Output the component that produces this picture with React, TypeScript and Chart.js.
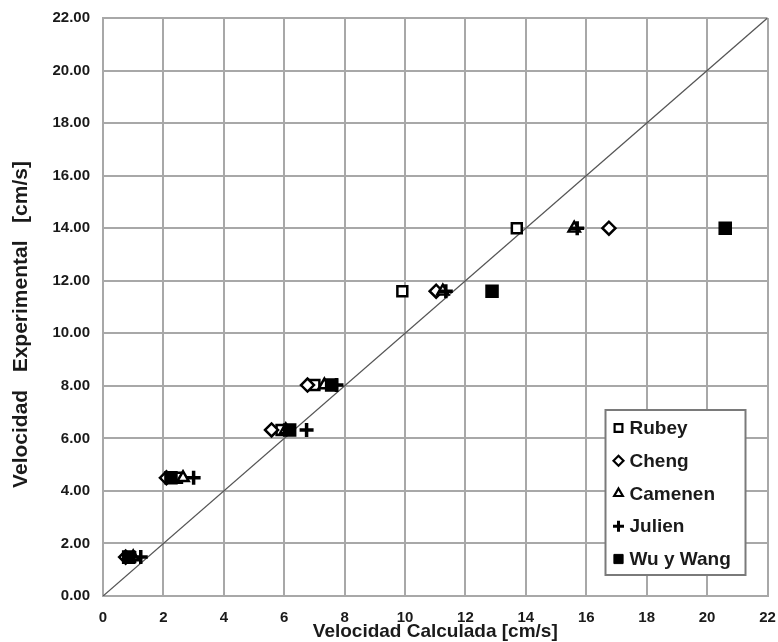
import React, { useEffect, useRef } from 'react';
import { Chart, registerables } from 'chart.js';
import { drawPoint } from 'chart.js/helpers';

Chart.register(...registerables);

// Experimental velocity (y) for the six test runs
const expVelocity = [1.48, 4.5, 6.32, 8.03, 11.6, 14.0];

// Calculated velocity (x) per method
const rubeyCalc = [0.9, 2.45, 5.91, 7.0, 9.91, 13.7];
const chengCalc = [0.75, 2.1, 5.58, 6.77, 11.03, 16.75];
const camenenCalc = [1.0, 2.65, 6.05, 7.33, 11.25, 15.6];
const julienCalc = [1.25, 3.0, 6.74, 7.73, 11.35, 15.7];
const wuWangCalc = [0.85, 2.25, 6.18, 7.57, 12.88, 20.6];

const seriesNames = ['Rubey', 'Cheng', 'Camenen', 'Julien', 'Wu y Wang'];

// 1:1 reference line end points
const identityLine = [0, 22];

const axisMin = 0;
const axisMax = 22;
const axisStep = 2;

const xTitle = 'Velocidad Calculada [cm/s]';
const yTitle = 'Velocidad   Experimental   [cm/s]      ';

const FONT = "'Liberation Sans', Arial, Helvetica, sans-serif";
const TEXT = '#1a1a1a';
const GRID = '#a8a8a8';

const pts = (xs: number[]) => xs.map((x, i) => ({ x, y: expVelocity[i] }));

const boxLegend = {
  id: 'boxLegend',
  afterDraw(chart: any) {
    const { ctx, chartArea } = chart;
    const w = 140;
    const h = 165;
    const x0 = chartArea.right - 22 - w;
    const y0 = chartArea.bottom - 21 - h;
    ctx.save();
    ctx.fillStyle = '#ffffff';
    ctx.fillRect(x0, y0, w, h);
    ctx.strokeStyle = '#7a7a7a';
    ctx.lineWidth = 2;
    ctx.strokeRect(x0, y0, w, h);
    const items = chart.data.datasets.filter((d: any) => d.inLegend);
    items.forEach((ds: any, i: number) => {
      const cy = y0 + 18 + i * 32.75;
      ctx.fillStyle = ds.pointBackgroundColor;
      ctx.strokeStyle = ds.pointBorderColor;
      ctx.lineWidth = ds.legendBorder;
      drawPoint(
        ctx,
        { pointStyle: ds.pointStyle, rotation: 0, radius: ds.legendRadius, borderWidth: ds.legendBorder },
        x0 + 13,
        cy
      );
      ctx.fillStyle = TEXT;
      ctx.font = `bold 19px ${FONT}`;
      ctx.textAlign = 'left';
      ctx.textBaseline = 'middle';
      ctx.fillText(ds.label, x0 + 24, cy + 1);
    });
    ctx.restore();
  },
};

const noPad = (s: any) => {
  s.paddingLeft = 0;
  s.paddingRight = 0;
  s.paddingTop = 0;
  s.paddingBottom = 0;
};

export default function App() {
  const ref = useRef<HTMLCanvasElement>(null);

  useEffect(() => {
    if (!ref.current) return;
    const chart = new Chart(ref.current, {
      type: 'scatter',
      data: {
        datasets: [
          {
            label: seriesNames[0],
            data: pts(rubeyCalc),
            pointStyle: 'rect',
            pointRadius: 7,
            pointBorderWidth: 2.5,
            pointBackgroundColor: '#ffffff',
            pointBorderColor: '#000000',
            inLegend: true,
            legendRadius: 5.5,
            legendBorder: 2.2,
            order: 5,
          } as any,
          {
            label: seriesNames[1],
            data: pts(chengCalc),
            pointStyle: 'rectRot',
            pointRadius: 6.5,
            pointBorderWidth: 2.5,
            pointBackgroundColor: '#ffffff',
            pointBorderColor: '#000000',
            inLegend: true,
            legendRadius: 5,
            legendBorder: 2.2,
            order: 4,
          } as any,
          {
            label: seriesNames[2],
            data: pts(camenenCalc),
            pointStyle: 'triangle',
            pointRadius: 6.5,
            pointBorderWidth: 2.5,
            pointBackgroundColor: '#ffffff',
            pointBorderColor: '#000000',
            inLegend: true,
            legendRadius: 5,
            legendBorder: 2.2,
            order: 3,
          } as any,
          {
            label: seriesNames[3],
            data: pts(julienCalc),
            pointStyle: 'cross',
            pointRadius: 7,
            pointBorderWidth: 3.5,
            pointBackgroundColor: '#000000',
            pointBorderColor: '#000000',
            inLegend: true,
            legendRadius: 5.5,
            legendBorder: 3,
            order: 2,
          } as any,
          {
            label: seriesNames[4],
            data: pts(wuWangCalc),
            pointStyle: 'rect',
            pointRadius: 8.5,
            pointBorderWidth: 1.5,
            pointBackgroundColor: '#000000',
            pointBorderColor: '#000000',
            inLegend: true,
            legendRadius: 6.5,
            legendBorder: 1,
            order: 1,
          } as any,
          {
            type: 'line',
            label: '',
            data: identityLine.map((v) => ({ x: v, y: v })),
            borderColor: '#555555',
            borderWidth: 1.3,
            pointRadius: 0,
            showLine: true,
            fill: false,
            order: 10,
          } as any,
        ],
      },
      options: {
        responsive: false,
        animation: false,
        devicePixelRatio: 1,
        layout: { padding: { top: 18, right: 9, left: 0, bottom: 0 } },
        plugins: {
          legend: { display: false },
          tooltip: { enabled: false },
        },
        scales: {
          x: {
            type: 'linear',
            min: axisMin,
            max: axisMax,
            afterFit: (s: any) => {
              s.height = 46;
              noPad(s);
            },
            ticks: {
              stepSize: axisStep,
              color: TEXT,
              padding: 13,
              font: { family: FONT, size: 15, weight: 'bold' },
              callback: (v: any) => String(v),
            },
            grid: { color: GRID, lineWidth: 2, drawTicks: false },
            border: { color: GRID, width: 2 },
            title: {
              display: true,
              text: xTitle,
              color: TEXT,
              font: { family: FONT, size: 19, weight: 'bold', lineHeight: 1 },
              padding: { top: 0, bottom: 1 },
            },
          },
          y: {
            type: 'linear',
            min: axisMin,
            max: axisMax,
            afterFit: (s: any) => {
              s.width = 103;
              noPad(s);
            },
            ticks: {
              stepSize: axisStep,
              color: TEXT,
              padding: 13,
              font: { family: FONT, size: 15, weight: 'bold' },
              callback: (v: any) => Number(v).toFixed(2),
            },
            grid: { color: GRID, lineWidth: 2, drawTicks: false },
            border: { color: GRID, width: 2 },
            title: {
              display: true,
              text: yTitle,
              color: TEXT,
              font: { family: FONT, size: 21, weight: 'bold', lineHeight: 1 },
              padding: { top: 11, bottom: 0 },
            },
          },
        },
      },
      plugins: [boxLegend],
    });
    return () => chart.destroy();
  }, []);

  return (
    <div style={{ position: 'absolute', left: 0, top: 0, width: 778, height: 642, background: '#fff' }}>
      <canvas ref={ref} width={778} height={642} style={{ display: 'block' }} />
    </div>
  );
}
